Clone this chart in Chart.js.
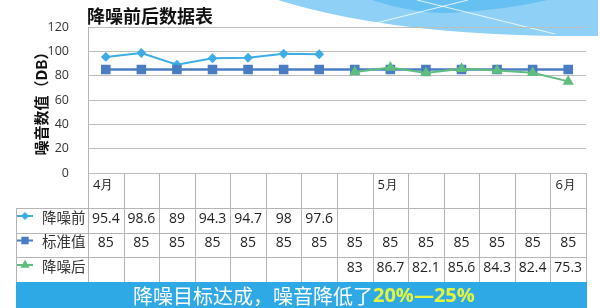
<!DOCTYPE html>
<html>
<head>
<meta charset="utf-8">
<script src="https://cdn.jsdelivr.net/npm/chart.js@4/dist/chart.umd.min.js"></script>
<style>
  html, body { margin: 0; padding: 0; background: #fff; overflow: hidden; }
  #wrap { position: relative; width: 600px; height: 308px; }
</style>
</head>
<body>
<div id="wrap"><canvas id="c" width="600" height="308"></canvas></div>
<script>
// Monthly noise readings, before / standard / after treatment
const months = ['4月', '', '', '', '', '', '', '', '5月', '', '', '', '', '6月'];
const seriesNames = ['降噪前', '标准值', '降噪后'];
const beforeValues = [95.4, 98.6, 89, 94.3, 94.7, 98, 97.6, null, null, null, null, null, null, null];
const standardValues = [85, 85, 85, 85, 85, 85, 85, 85, 85, 85, 85, 85, 85, 85];
const afterValues = [null, null, null, null, null, null, null, 83, 86.7, 82.1, 85.6, 84.3, 82.4, 75.3];
const yTickValues = [0, 20, 40, 60, 80, 100, 120];

const chartTitle = '降噪前后数据表';
const yAxisTitle = '噪音数值（DB）';
const bannerText = '降噪目标达成，噪音降低了';
const bannerHighlight = '20%—25%';

const colors = ['#3eade6', '#4a7cc3', '#5fbd7e'];
const pointStyles = ['rectRot', 'rect', 'triangle'];
const pointRadii = [3.5, 5, 4.5];
const seriesValues = [beforeValues, standardValues, afterValues];

const NUM_FONT = '"Open Sans", "Liberation Sans", sans-serif';
const CJK_FONT = '"Noto Sans CJK SC", "Noto Sans", sans-serif';

// Slide decoration in the top-right corner, plus the chart title
const backdrop = {
  id: 'backdrop',
  beforeDraw(chart) {
    const ctx = chart.ctx;
    ctx.save();
    ctx.fillStyle = '#8fd1f6';
    ctx.beginPath();
    ctx.moveTo(278, 0);
    ctx.quadraticCurveTo(400, 38, 598, 36);
    ctx.lineTo(598, 0);
    ctx.closePath();
    ctx.fill();

    ctx.fillStyle = '#66c0f1';
    ctx.beginPath();
    ctx.moveTo(372, 0);
    ctx.quadraticCurveTo(415, 14, 450, 13);
    ctx.quadraticCurveTo(505, 10, 548, 0);
    ctx.closePath();
    ctx.fill();

    ctx.strokeStyle = 'rgba(255,255,255,0.8)';
    ctx.lineWidth = 1;
    ctx.beginPath();
    ctx.moveTo(368, 25);
    ctx.lineTo(468, 0);
    ctx.moveTo(417, 0);
    ctx.lineTo(555, 34);
    ctx.stroke();

    ctx.fillStyle = '#111';
    ctx.font = 'bold 18px ' + CJK_FONT;
    ctx.textAlign = 'left';
    ctx.textBaseline = 'middle';
    ctx.fillText(chartTitle, 87, 16);
    ctx.restore();
  }
};

// Data table under the plot, with the series key and the summary banner
const dataTable = {
  id: 'dataTable',
  afterDraw(chart) {
    const { ctx, chartArea: a, scales: { x } } = chart;
    const n = months.length;
    const colW = (a.right - a.left) / n;
    const legendLeft = 16;
    const rows = [208, 233, 257, 282];
    const bottom = 282;

    ctx.save();
    ctx.strokeStyle = '#b5b5b5';
    ctx.lineWidth = 1;
    ctx.beginPath();
    for (let i = 0; i <= n; i++) {
      const xi = Math.round(a.left + i * colW) + 0.5;
      ctx.moveTo(xi, a.bottom);
      ctx.lineTo(xi, bottom);
    }
    ctx.moveTo(legendLeft + 0.5, rows[0]);
    ctx.lineTo(legendLeft + 0.5, bottom);
    for (let r = 0; r < 3; r++) {
      ctx.moveTo(legendLeft, rows[r] + 0.5);
      ctx.lineTo(a.right + 1, rows[r] + 0.5);
    }
    ctx.stroke();

    // category row
    ctx.fillStyle = '#222';
    ctx.font = '13px ' + NUM_FONT;
    ctx.textAlign = 'left';
    ctx.textBaseline = 'middle';
    months.forEach((m, i) => {
      if (m) ctx.fillText(m, a.left + i * colW + 5, 185);
    });

    // value rows
    for (let s = 0; s < 3; s++) {
      const cy = (rows[s] + rows[s + 1]) / 2 - 1.5;
      ctx.font = '14px ' + NUM_FONT;
      ctx.fillStyle = '#222';
      ctx.textAlign = 'center';
      seriesValues[s].forEach((v, i) => {
        if (v !== null) ctx.fillText(String(v), x.getPixelForValue(i), cy);
      });
      // key
      ctx.strokeStyle = colors[s];
      ctx.lineWidth = 2;
      ctx.beginPath();
      ctx.moveTo(17, cy - 3);
      ctx.lineTo(33, cy - 3);
      ctx.stroke();
      ctx.fillStyle = colors[s];
      Chart.helpers.drawPoint(ctx, {
        pointStyle: pointStyles[s], radius: pointRadii[s] * 0.75, rotation: 0, borderWidth: 1
      }, 25, cy - 3);
      ctx.fillStyle = '#333';
      ctx.font = '14.5px ' + CJK_FONT;
      ctx.textAlign = 'left';
      ctx.fillText(seriesNames[s], 42, cy - 2);
    }

    // summary banner
    ctx.fillStyle = '#2fa9e6';
    ctx.fillRect(legendLeft, bottom, a.right - legendLeft + 1, 308 - bottom);
    ctx.textBaseline = 'middle';
    ctx.textAlign = 'left';
    ctx.font = '20px ' + CJK_FONT;
    ctx.fillStyle = '#ffffff';
    const bx = 133, by = 296;
    ctx.fillText(bannerText, bx, by);
    const w = ctx.measureText(bannerText).width;
    ctx.font = 'bold 20px ' + NUM_FONT;
    ctx.fillStyle = '#e4f43c';
    ctx.fillText(bannerHighlight, bx + w, by);
    ctx.restore();
  }
};

const datasets = seriesNames.map((name, s) => ({
  label: name,
  data: seriesValues[s],
  borderColor: colors[s],
  backgroundColor: colors[s],
  pointBackgroundColor: colors[s],
  pointBorderColor: colors[s],
  pointStyle: pointStyles[s],
  pointRadius: pointRadii[s],
  pointHoverRadius: pointRadii[s],
  borderWidth: s === 1 ? 2.5 : 2,
  spanGaps: false,
  order: 2 - s
}));

new Chart(document.getElementById('c'), {
  type: 'line',
  data: { labels: months, datasets },
  options: {
    responsive: false,
    animation: false,
    devicePixelRatio: 1,
    layout: { padding: { left: 0, top: 27, right: 14, bottom: 135 } },
    plugins: { legend: { display: false }, title: { display: false }, tooltip: { enabled: false } },
    scales: {
      x: { display: false, offset: true },
      y: {
        min: yTickValues[0],
        max: yTickValues[yTickValues.length - 1],
        afterFit(scale) { scale.width = 88; },
        ticks: {
          stepSize: yTickValues[1] - yTickValues[0],
          padding: 19,
          color: '#333',
          font: { family: NUM_FONT, size: 12.5 }
        },
        grid: { color: '#bdbdbd', lineWidth: 1, drawTicks: false },
        border: { display: true, color: '#b5b5b5' },
        title: {
          display: true,
          text: yAxisTitle,
          color: '#111',
          font: { family: CJK_FONT, size: 15, weight: 'bold' },
          padding: { top: 32, bottom: 0 }
        }
      }
    }
  },
  plugins: [backdrop, dataTable]
});
</script>
</body>
</html>
